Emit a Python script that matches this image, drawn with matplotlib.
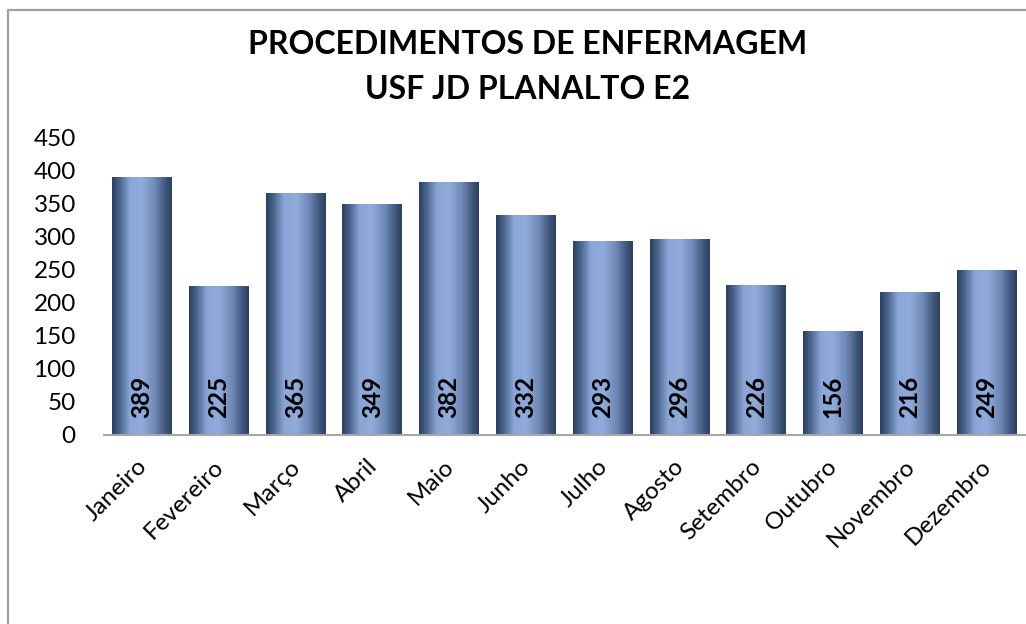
import numpy as np
import matplotlib.pyplot as plt
import matplotlib.transforms as mtransforms
from matplotlib.colors import LinearSegmentedColormap
from matplotlib.lines import Line2D

# monthly nursing procedures
meses = ['Janeiro', 'Fevereiro', 'Março', 'Abril', 'Maio', 'Junho', 'Julho',
         'Agosto', 'Setembro', 'Outubro', 'Novembro', 'Dezembro']
procedimentos = [389, 225, 365, 349, 382, 332, 293, 296, 226, 156, 216, 249]
yticks = [0, 50, 100, 150, 200, 250, 300, 350, 400, 450]

plt.rcParams['font.family'] = ['Lato', 'DejaVu Sans']

fig = plt.figure(figsize=(10.26, 6.24), dpi=100)
ax = fig.add_axes([0.101, 0.303, 0.898, 0.477])

# cylinder-like shading: dark edges, light centre
shade = LinearSegmentedColormap.from_list('shade', [
    (0.0, '#2a4062'), (0.12, '#48618a'), (0.3, '#8aa6d6'),
    (0.5, '#91abdb'), (0.72, '#6f88b6'), (0.88, '#435a80'), (1.0, '#2a4062')])
grad = np.linspace(0, 1, 256).reshape(1, -1)

x = np.arange(len(meses))
bars = ax.bar(x, procedimentos, width=0.78, color='none', zorder=2)
for b in bars:
    x0, w, h = b.get_x(), b.get_width(), b.get_height()
    ax.imshow(grad, cmap=shade, aspect='auto', extent=[x0, x0 + w, 0, h],
              zorder=1, interpolation='bicubic')

for xi, v in zip(x, procedimentos):
    ax.text(xi, 25, str(v), rotation=90, ha='center', va='bottom',
            fontsize=17.5, fontweight='bold', color='black', zorder=3)

ax.set_xlim(-0.5, len(meses) - 0.5)
ax.set_ylim(0, 450)
ax.set_yticks(yticks)
ax.set_xticks(x)
ax.set_xticklabels(meses, rotation=45, ha='right', rotation_mode='anchor')
ax.tick_params(axis='both', length=0, labelsize=17.5)
ax.tick_params(axis='x', pad=15)
ax.tick_params(axis='y', pad=20)
# nudge month labels slightly left
shift = mtransforms.ScaledTranslation(-6 / 100, 0, fig.dpi_scale_trans)
for lbl in ax.get_xticklabels():
    lbl.set_transform(lbl.get_transform() + shift)
for s in ['top', 'right', 'left']:
    ax.spines[s].set_visible(False)
ax.spines['bottom'].set_color('#a6a6a6')
ax.spines['bottom'].set_linewidth(1.5)

fig.text(0.514, 0.928, 'PROCEDIMENTOS DE ENFERMAGEM', ha='center', va='center',
         fontsize=23, fontweight='bold')
fig.text(0.514, 0.856, 'USF JD PLANALTO E2', ha='center', va='center',
         fontsize=23, fontweight='bold')

# chart area frame
yb = 1 - 10 / 624
xb = 8 / 1026
fig.add_artist(Line2D([xb, xb, 1.0], [0.0, yb, yb], color='#a0a0a0', lw=1.6,
                      transform=fig.transFigure))

fig.savefig('out.png', dpi=100)
